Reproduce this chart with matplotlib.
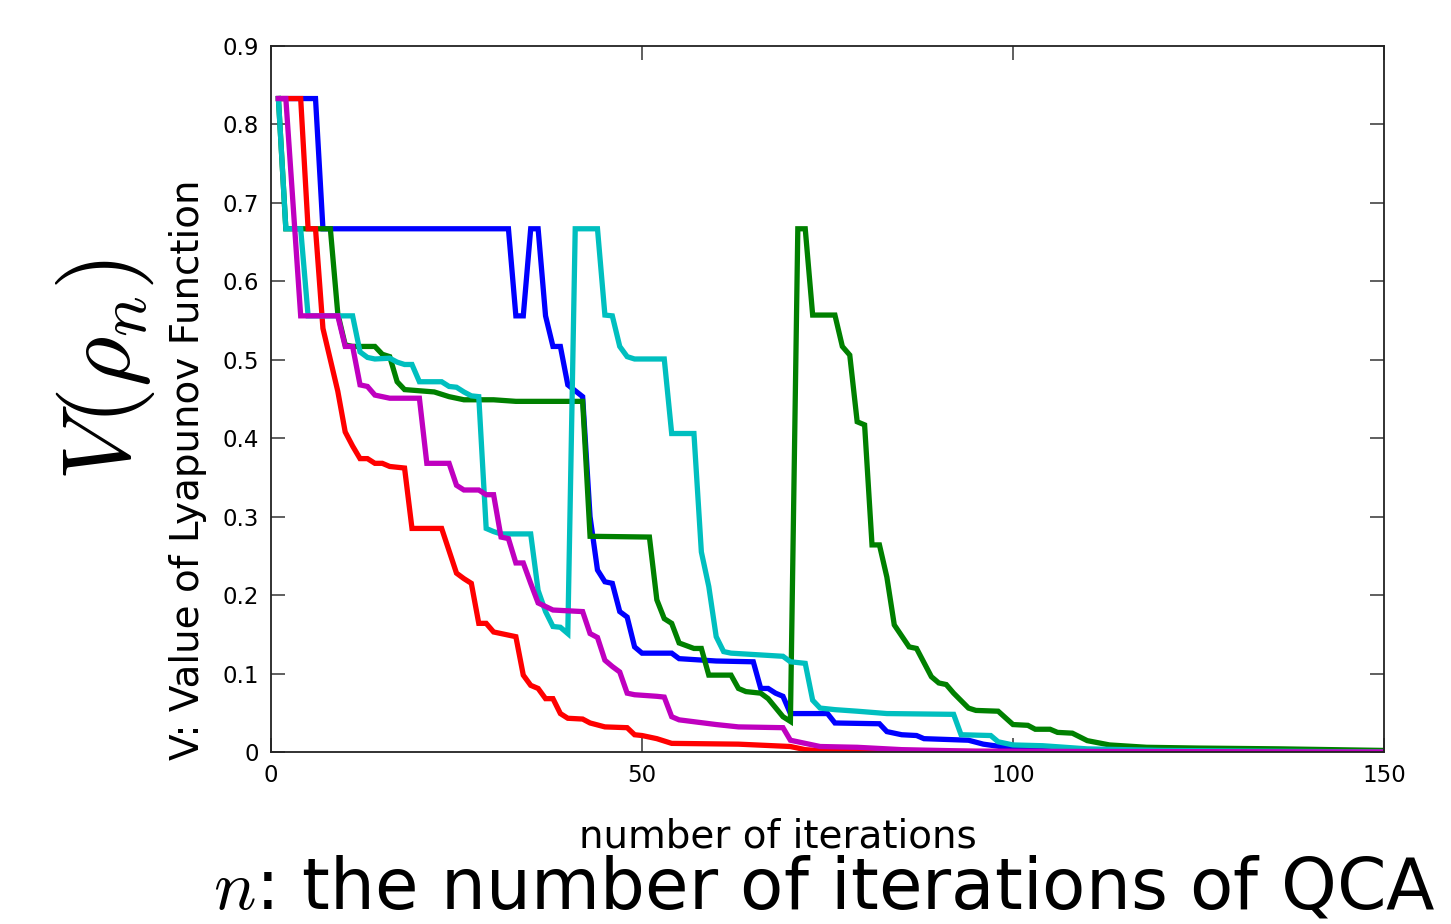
import matplotlib
matplotlib.use("Agg")
import matplotlib.pyplot as plt

plt.rcParams['font.family'] = ['DejaVu Sans']
plt.rcParams['mathtext.fontset'] = 'cm'

# corner points of each run (iteration, V)
blue_n = [1, 6, 7, 32, 33, 34, 35, 36, 37, 38, 39, 40, 42, 43, 44, 45, 46, 47, 48, 49, 50,
          54, 55, 60, 65, 66, 67, 68, 69, 70, 75, 76, 82, 83, 85, 87, 88, 94, 96, 99, 105, 120, 150]
blue_v = [0.833, 0.833, 0.667, 0.667, 0.556, 0.556, 0.667, 0.667, 0.556, 0.517, 0.517, 0.468, 0.453,
          0.30, 0.232, 0.217, 0.215, 0.179, 0.172, 0.134, 0.126, 0.126, 0.119, 0.116, 0.115, 0.081,
          0.081, 0.075, 0.071, 0.049, 0.049, 0.037, 0.036, 0.026, 0.022, 0.021, 0.017, 0.015, 0.010,
          0.006, 0.003, 0.001, 0.0]

green_n = [1, 2, 8, 9, 10, 11, 14, 15, 16, 17, 18, 22, 24, 26, 30, 33, 42, 43, 51, 52, 53, 54, 55,
           57, 58, 59, 62, 63, 64, 66, 67, 69, 70, 71, 72, 73, 76, 77, 78, 79, 80, 81, 82, 83, 84,
           86, 87, 89, 90, 91, 92, 94, 95, 98, 100, 102, 103, 105, 106, 108, 110, 113, 118, 125,
           136, 143, 150]
green_v = [0.833, 0.667, 0.667, 0.559, 0.519, 0.517, 0.517, 0.507, 0.504, 0.472, 0.462, 0.459, 0.453,
           0.449, 0.449, 0.447, 0.447, 0.275, 0.274, 0.194, 0.170, 0.164, 0.139, 0.132, 0.132, 0.098,
           0.098, 0.081, 0.077, 0.075, 0.068, 0.045, 0.039, 0.667, 0.667, 0.557, 0.557, 0.517, 0.506,
           0.421, 0.417, 0.264, 0.264, 0.223, 0.162, 0.134, 0.132, 0.096, 0.088, 0.086, 0.075, 0.056,
           0.053, 0.052, 0.035, 0.034, 0.029, 0.029, 0.025, 0.024, 0.0145, 0.009, 0.006, 0.005,
           0.004, 0.003, 0.002]

red_n = [1, 4, 5, 6, 7, 8, 9, 10, 11, 12, 13, 14, 15, 16, 18, 19, 23, 25, 26, 27, 28, 29, 30, 33,
         34, 35, 36, 37, 38, 39, 40, 42, 43, 45, 48, 49, 50, 52, 54, 63, 70, 72, 75, 150]
red_v = [0.833, 0.833, 0.667, 0.667, 0.54, 0.50, 0.46, 0.408, 0.39, 0.374, 0.374, 0.368, 0.368, 0.364,
         0.362, 0.285, 0.285, 0.228, 0.221, 0.215, 0.164, 0.164, 0.153, 0.147, 0.098, 0.085, 0.081,
         0.068, 0.068, 0.049, 0.043, 0.042, 0.037, 0.032, 0.031, 0.022, 0.021, 0.017, 0.011, 0.010,
         0.007, 0.003, 0.001, 0.0]

cyan_n = [1, 2, 4, 5, 11, 12, 13, 14, 16, 17, 18, 19, 20, 23, 24, 25, 26, 27, 28, 29, 30, 31, 35,
          36, 37, 38, 39, 40, 41, 44, 45, 46, 47, 48, 49, 53, 54, 57, 58, 59, 60, 61, 62, 69, 70, 72,
          73, 74, 76, 79, 83, 92, 93, 97, 98, 100, 104, 110, 120, 150]
cyan_v = [0.833, 0.667, 0.667, 0.556, 0.556, 0.51, 0.503, 0.501, 0.502, 0.497, 0.494, 0.494, 0.472,
          0.472, 0.466, 0.465, 0.459, 0.454, 0.453, 0.285, 0.281, 0.278, 0.278, 0.206, 0.179, 0.160,
          0.159, 0.151, 0.667, 0.667, 0.557, 0.556, 0.517, 0.504, 0.501, 0.501, 0.406, 0.406, 0.255,
          0.211, 0.147, 0.128, 0.126, 0.122, 0.115, 0.113, 0.066, 0.056, 0.054, 0.052, 0.049, 0.048,
          0.022, 0.021, 0.013, 0.009, 0.008, 0.004, 0.002, 0.0]

mag_n = [1, 2, 4, 9, 10, 11, 12, 13, 14, 16, 20, 21, 24, 25, 26, 28, 29, 30, 31, 32, 33, 34, 35,
         36, 38, 42, 43, 44, 45, 46, 47, 48, 49, 52, 53, 54, 55, 60, 63, 69, 70, 71, 74, 79, 85, 95, 150]
mag_v = [0.833, 0.833, 0.556, 0.556, 0.517, 0.517, 0.468, 0.466, 0.455, 0.451, 0.451, 0.368, 0.368,
         0.340, 0.334, 0.334, 0.328, 0.328, 0.274, 0.272, 0.241, 0.241, 0.215, 0.19, 0.181, 0.179,
         0.151, 0.146, 0.117, 0.109, 0.102, 0.075, 0.073, 0.071, 0.070, 0.045, 0.041, 0.035, 0.032,
         0.031, 0.015, 0.013, 0.007, 0.006, 0.003, 0.001, 0.0]

series = [(blue_n, blue_v, (0, 0, 1)),
          (green_n, green_v, (0, 0.5, 0)),
          (red_n, red_v, (1, 0, 0)),
          (cyan_n, cyan_v, (0, 0.75, 0.75)),
          (mag_n, mag_v, (0.75, 0, 0.75))]

fig = plt.figure(figsize=(14.51, 9.24), dpi=100)
ax = fig.add_axes([271/1451, 172/924, (1384-271)/1451, (752-46)/924])

for xs, ys, c in series:
    ax.plot(xs, ys, color=c, lw=3.8, solid_joinstyle='miter')

ax.set_xlim(0, 150)
ax.set_ylim(0, 0.9)
ax.set_xticks([0, 50, 100, 150])
ax.set_yticks([0, 0.1, 0.2, 0.3, 0.4, 0.5, 0.6, 0.7, 0.8, 0.9])
ax.set_yticklabels(['0', '0.1', '0.2', '0.3', '0.4', '0.5', '0.6', '0.7', '0.8', '0.9'])
ax.tick_params(direction='in', length=10, width=1.2, top=True, right=True,
               labelsize=16.5, pad=9, color='#444444')
for s in ax.spines.values():
    s.set_linewidth(1.3)
    s.set_color('#222222')

fig.text(778/1451, 1 - 848/924, 'number of iterations', fontsize=28,
         ha='center', va='baseline')
fig.text(188/1451, 1 - 470/924, 'V: Value of Lyapunov Function', fontsize=28,
         rotation=90, ha='center', va='center')
fig.text(106/1451, 1 - 370/924, r'$V(\rho_n)$', fontsize=70,
         rotation=90, ha='center', va='center')
fig.text(824/1451, 1/924, r'$n$: the number of iterations of QCA', fontsize=51,
         ha='center', va='bottom')

fig.savefig('out.png', dpi=100)
